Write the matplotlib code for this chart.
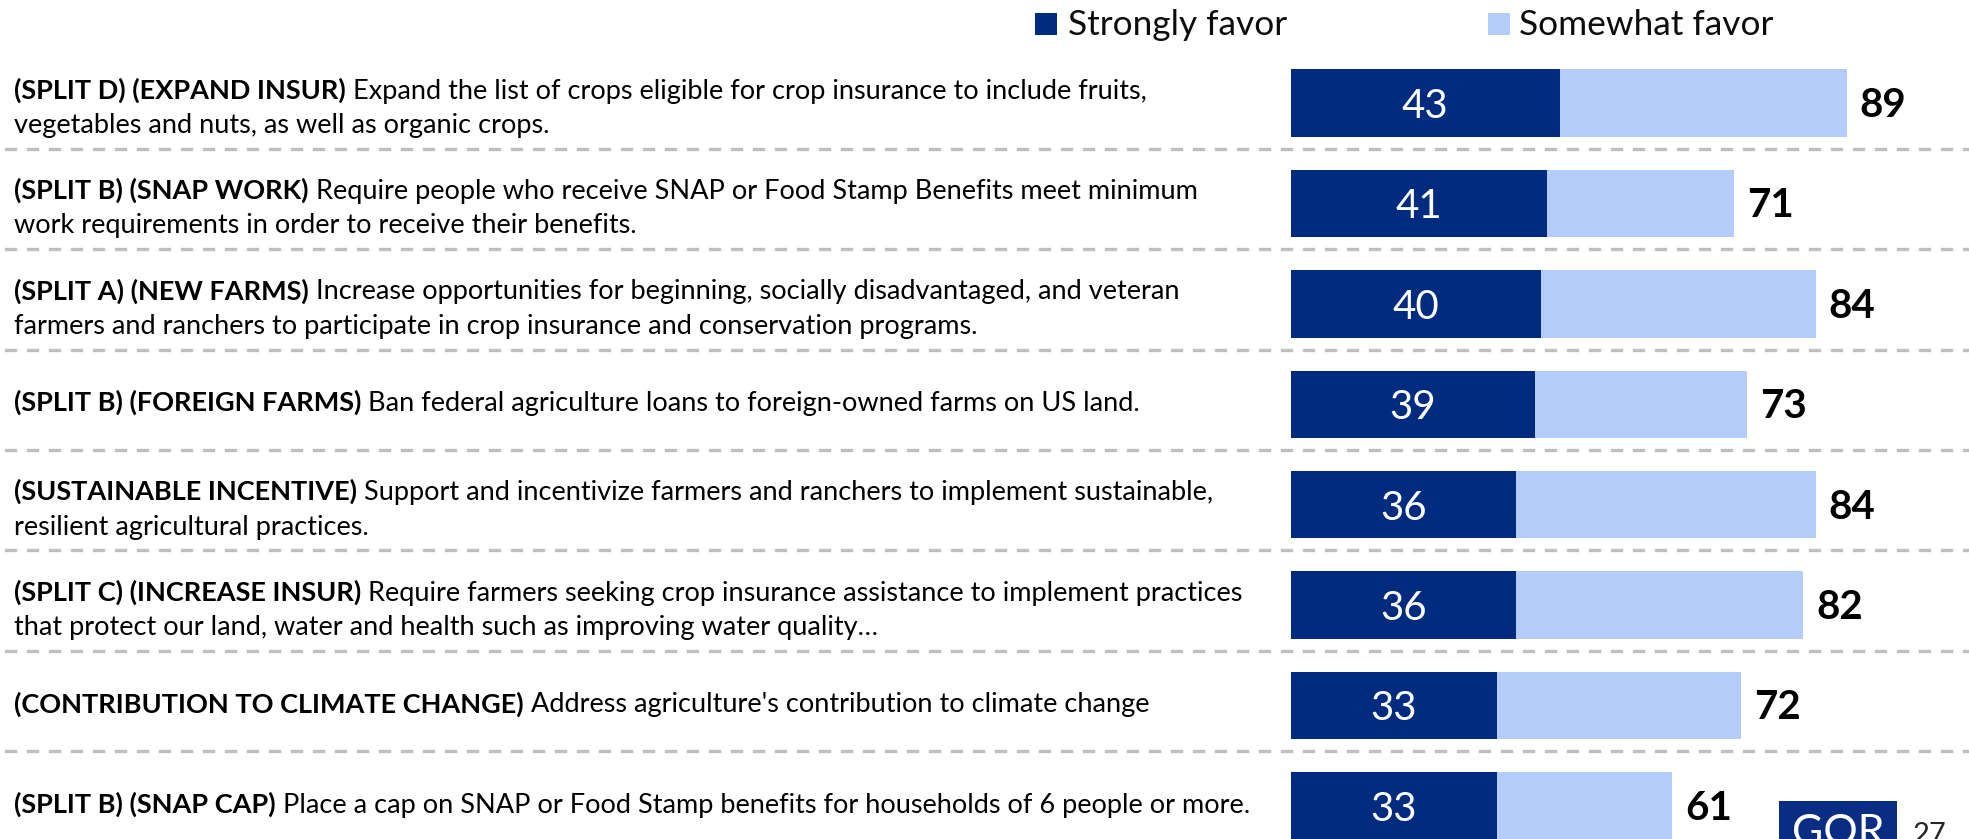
import matplotlib
matplotlib.use("Agg")
import matplotlib.pyplot as plt
import matplotlib.transforms as mtransforms
from matplotlib.patches import Rectangle
from matplotlib.lines import Line2D

# ---------------- data ----------------
label_bold = [
    "(SPLIT D) (EXPAND INSUR)",
    "(SPLIT B) (SNAP WORK)",
    "(SPLIT A) (NEW FARMS)",
    "(SPLIT B) (FOREIGN FARMS)",
    "(SUSTAINABLE INCENTIVE)",
    "(SPLIT C) (INCREASE INSUR)",
    "(CONTRIBUTION TO CLIMATE CHANGE)",
    "(SPLIT B) (SNAP CAP)",
]
label_line1 = [
    "Expand the list of crops eligible for crop insurance to include fruits,",
    "Require people who receive SNAP or Food Stamp Benefits meet minimum",
    "Increase opportunities for beginning, socially disadvantaged, and veteran",
    "Ban federal agriculture loans to foreign-owned farms on US land.",
    "Support and incentivize farmers and ranchers to implement sustainable,",
    "Require farmers seeking crop insurance assistance to implement practices",
    "Address agriculture's contribution to climate change",
    "Place a cap on SNAP or Food Stamp benefits for households of 6 people or more.",
]
label_line2 = [
    "vegetables and nuts, as well as organic crops.",
    "work requirements in order to receive their benefits.",
    "farmers and ranchers to participate in crop insurance and conservation programs.",
    "",
    "resilient agricultural practices.",
    "that protect our land, water and health such as improving water quality\u2026",
    "",
    "",
]
strongly = [43, 41, 40, 39, 36, 36, 33, 33]
total = [89, 71, 84, 73, 84, 82, 72, 61]
somewhat = [t - s for t, s in zip(total, strongly)]
legend_labels = ["Strongly favor", "Somewhat favor"]
page_number = "27"
logo_text = "GQR"

# ---------------- style ----------------
W, H, DPI = 1969, 839, 100
DARK = "#002B7F"
LIGHT = "#B3CCFA"
SEP = "#BFBFBF"
TXT = "#000000"

plt.rcParams['font.family'] = ['Lato', 'DejaVu Sans']
plt.rcParams['lines.scale_dashes'] = False

fig = plt.figure(figsize=(W / DPI, H / DPI), dpi=DPI)
fig.patch.set_facecolor("white")
renderer = fig.canvas.get_renderer()

# pixel-space axes for decorations
bg = fig.add_axes([0, 0, 1, 1])
bg.set_xlim(0, W)
bg.set_ylim(H, 0)
bg.axis('off')

# data axes for bars
ax = fig.add_axes([0, 0, 1, 1])
ax.axis('off')
ax.patch.set_alpha(0)

X0 = 1291.0     # px of value 0
PXU = 6.245     # px per percentage point
Y0 = 103.0      # px centre of first row
ROW = 100.4     # px per row
ax.set_xlim(-X0 / PXU, (W - X0) / PXU)
ax.set_ylim((H - Y0) / ROW, -Y0 / ROW)

n = len(strongly)
ypos = list(range(n))
bar_h = 67.4 / ROW
ax.barh(ypos, strongly, height=bar_h, color=DARK, linewidth=0)
ax.barh(ypos, somewhat, left=strongly, height=bar_h, color=LIGHT, linewidth=0)

# separators spanning full width
trans_mix = mtransforms.blended_transform_factory(bg.transData, ax.transData)
for k in range(n - 1):
    y = k + (148.7 - Y0) / ROW
    ln = Line2D([0, W], [y, y], transform=trans_mix, color=SEP,
                linewidth=2.4, linestyle=(12.7, (8.86, 6.98)),
                solid_capstyle='butt', dash_capstyle='butt')
    ax.add_line(ln)


def text_width(s, **kw):
    t = fig.text(0, 0, s, **kw)
    w = t.get_window_extent(renderer).width
    t.remove()
    return w


# fit label font size so the first line spans like the reference
base = 17.0
w_b = text_width(label_bold[0], fontsize=base, fontweight='bold')
w_r = text_width(label_line1[0], fontsize=base)
w_sp = text_width("a a", fontsize=base) - text_width("aa", fontsize=base)
fs = base * 1133.0 / (w_b + w_sp + w_r)
w_sp = text_width("a a", fontsize=fs) - text_width("aa", fontsize=fs)

LX = 14
for i in range(n):
    two = bool(label_line2[i])
    yb = i + ((-4.5 if two else 7.0) / ROW)
    tb = ax.text(LX, yb, label_bold[i], transform=trans_mix, fontsize=fs,
                 fontweight='bold', va='baseline', ha='left', color=TXT)
    wb = tb.get_window_extent(renderer).width
    ax.text(LX + wb + w_sp, yb, label_line1[i], transform=trans_mix,
            fontsize=fs, va='baseline', ha='left', color=TXT)
    if two:
        ax.text(LX, i + 30.0 / ROW, label_line2[i], transform=trans_mix,
                fontsize=fs, va='baseline', ha='left', color=TXT)

# values
for i in range(n):
    ax.text(strongly[i] / 2.0, i + 15.0 / ROW, str(strongly[i]), color='white',
            fontsize=29, fontweight='normal', ha='center', va='baseline')
    ax.text(total[i] + 13.0 / PXU, i + 14.0 / ROW, str(total[i]), color=TXT,
            fontsize=29, fontweight='bold', ha='left', va='baseline')

# legend
lfs = 22.0 * 254.0 / text_width(legend_labels[1], fontsize=22.0)
for (sx, tx), lab, col in zip([(1035, 1068), (1488, 1519)], legend_labels, [DARK, LIGHT]):
    bg.add_patch(Rectangle((sx, 12.7), 22, 22, color=col, linewidth=0))
    bg.text(tx, 35, lab, fontsize=lfs, va='baseline', ha='left', color="#0D0D0D")

# logo + page number
bg.add_patch(Rectangle((1779, 801), 118, 60, color="#0A2D84", linewidth=0, clip_on=False))
bg.text(1838, 845, logo_text, fontsize=31, color='white', ha='center', va='baseline')
bg.text(1913, 843, page_number, fontsize=21, color="#262626", ha='left', va='baseline')

fig.savefig("out.png", dpi=DPI, facecolor="white")
